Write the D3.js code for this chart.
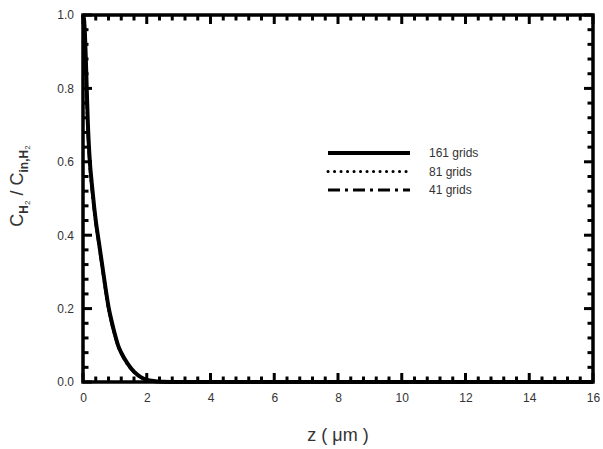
<!DOCTYPE html>
<meta charset="utf-8">
<style>
body { margin: 0; background: #fff; }
text { font-family: Arial, "Liberation Sans", sans-serif; }
</style>
<body>
<script src="https://cdn.jsdelivr.net/npm/d3@7"></script>
<script>

// z positions (um) and normalised H2 concentration for each grid
var zVals   = [0, 0.03, 0.06, 0.1, 0.15, 0.2, 0.3, 0.4, 0.5, 0.6, 0.7, 0.8, 0.9, 1.0, 1.1, 1.2, 1.4, 1.6, 1.8, 2.0, 2.2, 2.5, 3.0, 4, 16];
var grid161 = [1.0, 0.99, 0.95, 0.85, 0.71, 0.62, 0.52, 0.44, 0.38, 0.32, 0.26, 0.205, 0.165, 0.13, 0.10, 0.08, 0.05, 0.028, 0.014, 0.006, 0.003, 0.001, 0, 0, 0];
var grid81  = [1.0, 0.99, 0.95, 0.85, 0.71, 0.62, 0.52, 0.44, 0.38, 0.32, 0.26, 0.205, 0.165, 0.13, 0.10, 0.08, 0.05, 0.028, 0.014, 0.006, 0.003, 0.001, 0, 0, 0];
var grid41  = [1.0, 0.97, 0.92, 0.82, 0.69, 0.61, 0.51, 0.435, 0.375, 0.315, 0.255, 0.2, 0.16, 0.127, 0.098, 0.078, 0.048, 0.027, 0.013, 0.006, 0.003, 0.001, 0, 0, 0];

var seriesNames = ["161 grids", "81 grids", "41 grids"];
var seriesData = [grid161, grid81, grid41];
var dashes = [null, "1.5,4", "9,3,2,3"];
var widths = [4, 2.5, 3];

var xTicks = [0, 2, 4, 6, 8, 10, 12, 14, 16];
var yTicks = [0, 0.2, 0.4, 0.6, 0.8, 1.0];
var xMinor = [0, 0.4, 0.8, 1.2, 1.6, 2, 2.4, 2.8, 3.2, 3.6, 4, 4.4, 4.8, 5.2, 5.6, 6, 6.4, 6.8, 7.2, 7.6, 8,
              8.4, 8.8, 9.2, 9.6, 10, 10.4, 10.8, 11.2, 11.6, 12, 12.4, 12.8, 13.2, 13.6, 14, 14.4, 14.8, 15.2, 15.6, 16];
var yMinor = [0, 0.04, 0.08, 0.12, 0.16, 0.2, 0.24, 0.28, 0.32, 0.36, 0.4, 0.44, 0.48, 0.52, 0.56, 0.6,
              0.64, 0.68, 0.72, 0.76, 0.8, 0.84, 0.88, 0.92, 0.96, 1.0];

var W = 603, H = 449;
var margin = {top: 15, left: 83};
var width = 593 - margin.left, height = 382 - margin.top;

var svg = d3.select("body").append("svg")
    .attr("width", W).attr("height", H);
var g = svg.append("g")
    .attr("transform", "translate(" + margin.left + "," + margin.top + ")");

var x = d3.scaleLinear().domain([0, 16]).range([0, width]);
var y = d3.scaleLinear().domain([0, 1]).range([height, 0]);

var majorLen = 9, minorLen = 5.5;
function xLen(d) { return xTicks.indexOf(d) >= 0 ? majorLen : minorLen; }
function yLen(d) { return yTicks.indexOf(d) >= 0 ? majorLen : minorLen; }

// frame
g.append("rect")
    .attr("width", width).attr("height", height)
    .attr("fill", "none")
    .attr("stroke", "#000")
    .attr("stroke-width", 3.5);

// inward tick marks on all four sides
g.selectAll(".xb").data(xMinor).join("line").attr("class", "xb")
    .attr("x1", function(d) { return x(d); }).attr("x2", function(d) { return x(d); })
    .attr("y1", height).attr("y2", function(d) { return height - xLen(d); })
    .attr("stroke", "#000").attr("stroke-width", 3);
g.selectAll(".xt").data(xMinor).join("line").attr("class", "xt")
    .attr("x1", function(d) { return x(d); }).attr("x2", function(d) { return x(d); })
    .attr("y1", 0).attr("y2", function(d) { return xLen(d); })
    .attr("stroke", "#000").attr("stroke-width", 3);
g.selectAll(".yl").data(yMinor).join("line").attr("class", "yl")
    .attr("y1", function(d) { return y(d); }).attr("y2", function(d) { return y(d); })
    .attr("x1", 0).attr("x2", function(d) { return yLen(d); })
    .attr("stroke", "#000").attr("stroke-width", 3);
g.selectAll(".yr").data(yMinor).join("line").attr("class", "yr")
    .attr("y1", function(d) { return y(d); }).attr("y2", function(d) { return y(d); })
    .attr("x1", width).attr("x2", function(d) { return width - yLen(d); })
    .attr("stroke", "#000").attr("stroke-width", 3);

// tick labels through the axis generators
var xa = g.append("g").attr("transform", "translate(0," + height + ")")
    .call(d3.axisBottom(x).tickValues(xTicks).tickSize(0).tickPadding(11).tickFormat(d3.format("d")));
var ya = g.append("g")
    .call(d3.axisLeft(y).tickValues(yTicks).tickSize(0).tickPadding(9).tickFormat(d3.format(".1f")));
[xa, ya].forEach(function(a) {
  a.select(".domain").remove();
  a.selectAll("text").attr("font-size", 12).attr("fill", "#333");
});

var line = d3.line()
    .x(function(d) { return x(d[0]); })
    .y(function(d) { return y(d[1]); })
    .curve(d3.curveMonotoneX);

seriesData.forEach(function(vals, i) {
  g.append("path")
      .datum(zVals.map(function(z, j) { return [z, vals[j]]; }))
      .attr("fill", "none")
      .attr("stroke", "#000")
      .attr("stroke-width", widths[i])
      .attr("stroke-dasharray", dashes[i])
      .attr("d", line);
});

// legend
var leg = svg.append("g").attr("transform", "translate(328,153)");
seriesNames.forEach(function(name, i) {
  var r = leg.append("g").attr("transform", "translate(0," + (i * 18.5) + ")");
  r.append("line").attr("x1", 0).attr("x2", 82)
      .attr("stroke", "#000")
      .attr("stroke-width", i == 0 ? 4 : 3)
      .attr("stroke-linecap", i == 1 ? "round" : "butt")
      .attr("stroke-dasharray", i == 0 ? null : (i == 1 ? "0.1,6.4" : "12,5,3,5"));
  r.append("text").attr("x", 101).attr("dy", "0.35em")
      .attr("font-size", 12).attr("fill", "#333").text(name);
});

// axis titles
svg.append("text")
    .attr("x", 338).attr("y", 441)
    .attr("text-anchor", "middle")
    .attr("font-size", 18).attr("fill", "#333")
    .text("z ( \u03bcm )");

var yt = svg.append("text")
    .attr("transform", "translate(23,186) rotate(-90)")
    .attr("text-anchor", "middle")
    .attr("font-size", 18).attr("fill", "#333");
yt.append("tspan").text("C");
yt.append("tspan").attr("dy", 5).attr("font-size", 12).attr("font-weight", "bold").text("H");
yt.append("tspan").attr("dy", 2).attr("font-size", 8).text("2");
yt.append("tspan").attr("dy", -7).text(" / C");
yt.append("tspan").attr("dy", 5).attr("font-size", 12).attr("font-weight", "bold").text("in,H");
yt.append("tspan").attr("dy", 2).attr("font-size", 8).text("2");

</script>
</body>
